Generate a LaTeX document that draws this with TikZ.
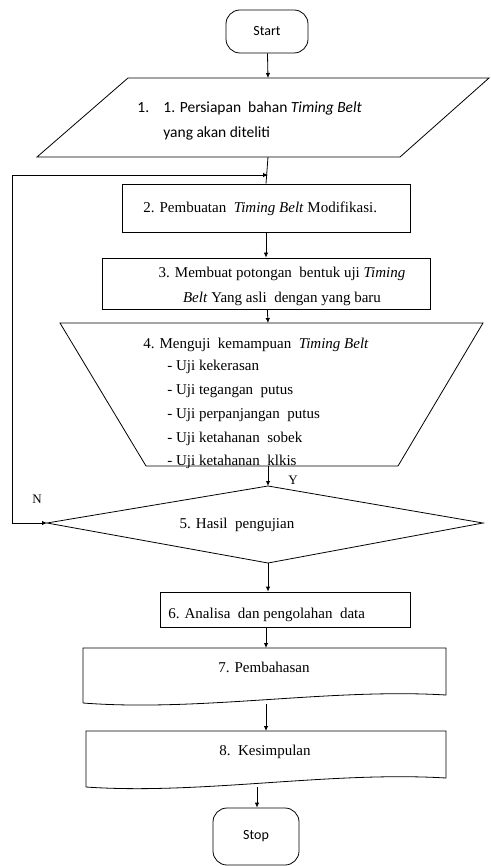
\documentclass[tikz,border=0pt]{standalone}
\usepackage{fontspec}
\setmainfont{Liberation Serif}
\newfontfamily\calfont{Carlito}
\usetikzlibrary{arrows.meta}
\begin{document}
\begin{tikzpicture}[x=1pt,y=-1pt,line width=0.8pt,
  conn/.style={-{Latex[length=5pt,width=4.5pt]},line width=0.8pt},
  fb/.style={{Latex[length=5pt,width=4.5pt]}-{Latex[length=5pt,width=4.5pt]},line width=0.8pt},
  box/.style={draw,inner sep=0pt},
  term/.style={draw,rounded corners=14pt,inner sep=0pt,font=\calfont\fontsize{14}{16}\selectfont},
  tt/.style={inner sep=0pt,anchor=base west,font=\fontsize{15}{18}\selectfont},
  tc/.style={inner sep=0pt,anchor=base,font=\fontsize{15}{18}\selectfont},
  ct/.style={inner sep=0pt,anchor=base west,font=\calfont\fontsize{15.5}{18}\selectfont},
  lab/.style={inner sep=0pt,font=\fontsize{13}{15}\selectfont}]
\useasboundingbox (0,0) rectangle (490,866);

% Start
\node[term,minimum width=82pt,minimum height=43pt] (start) at (267,31.5) {Start};

% 1. parallelogram (input)
\draw (128,78) -- (489,78) -- (400,157) -- (37,157) -- cycle;
\coordinate (p1top) at (268,78);
\coordinate (p1bot) at (268,157);
\node[ct] (t1n) at (137,113) {1.};
\node[ct] (t1a) at (163,113) {1. Persiapan\ \ bahan \textit{Timing Belt}};
\node[ct] (t1b) at (163,138) {yang akan diteliti};

% join of feedback
\coordinate (join) at (268,175);

% 2. box
\node[box,minimum width=288pt,minimum height=48pt] (b2) at (266,208) {};
\node[tt] (t2) at (143,213) {2. Pembuatan\ \ \textit{Timing Belt} Modifikasi.};

% 3. box
\node[box,minimum width=328pt,minimum height=51pt] (b3) at (266,283.5) {};
\node[tc] (t3a) at (282,277) {3. Membuat potongan\ \ bentuk uji \textit{Timing}};
\node[tc] (t3b) at (282,302) {\textit{Belt} Yang asli\ \ dengan yang baru};

% 4. trapezoid (manual operation)
\draw (60,323) -- (483,323) -- (398,466) -- (146,466) -- cycle;
\coordinate (t4top) at (268,323);
\coordinate (t4bot) at (268,466);
\node[tt] (t4) at (143,348) {4. Menguji\ \ kemampuan\ \ \textit{Timing Belt}};
\node[tt] (t4a) at (167,370) {- Uji kekerasan};
\node[tt] (t4b) at (167,394) {- Uji tegangan\ \ putus};
\node[tt] (t4c) at (167,418) {- Uji perpanjangan\ \ putus};
\node[tt] (t4d) at (167,442) {- Uji ketahanan\ \ sobek};
\node[tt] (t4e) at (167,465) {- Uji ketahanan\ \ klkis};

% 5. decision
\draw (268,486) -- (483,523) -- (268,563) -- (47,523) -- cycle;
\coordinate (d5top) at (268,486);
\coordinate (d5bot) at (268,563);
\coordinate (d5left) at (47,523);
\node[tc] (t5) at (237,528) {5. Hasil\ \ pengujian};
\node[lab] (ylab) at (293,480) {Y};
\node[lab] (nlab) at (37,499) {N};

% 6. box
\node[box,minimum width=250pt,minimum height=35pt] (b6) at (285,609.5) {};
\node[tt] (t6) at (168,618) {6. Analisa\ \ dan pengolahan\ \ data};

% 7. document
\draw (83,703) -- (83,648) -- (446,648) -- (446,695)
  .. controls (330,688) and (200,712) .. (83,703);
\coordinate (d7top) at (266,648);
\coordinate (d7bot) at (266,704);
\node[tc] (t7) at (264,672) {7. Pembahasan};

% 8. document
\draw (86,787) -- (86,731) -- (446,731) -- (446,778)
  .. controls (330,771) and (200,795) .. (86,787);
\coordinate (d8top) at (266,731);
\coordinate (d8bot) at (257,787);
\node[tc] (t8) at (265,755) {8.\ \ Kesimpulan};

% Stop
\node[term,minimum width=86pt,minimum height=57pt] (stop) at (256,836.5) {Stop};

% connectors
\draw[conn] (start) -- (p1top);
\draw (p1bot) -- (b2.north);
\draw[fb] (d5left) -- (12,523) |- (join);
\draw[conn] (b2) -- (b3);
\draw[conn] (b3) -- (t4top);
\draw[conn] (t4bot) -- (d5top);
\draw[conn] (d5bot) -- (b6.north -| d5bot);
\draw[conn] (b6.south -| d7top) -- (d7top);
\draw[conn] (d7bot) -- (d8top);
\draw[conn] (d8bot) -- (stop.north -| d8bot);
\end{tikzpicture}
\end{document}
